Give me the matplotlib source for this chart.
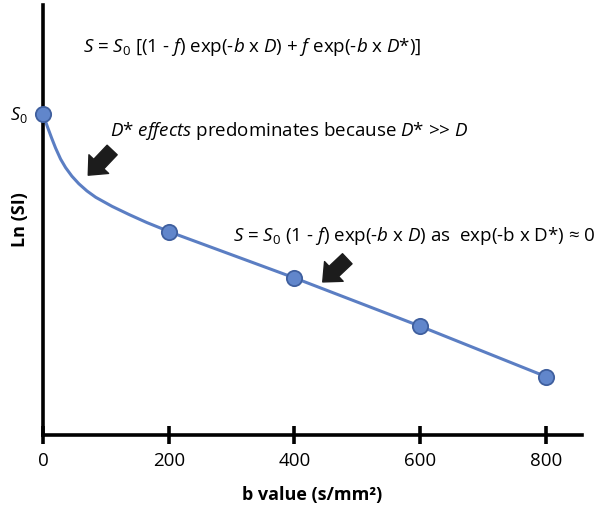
import matplotlib
matplotlib.use("Agg")
import matplotlib.pyplot as plt

plt.rcParams['font.family'] = ['Open Sans', 'DejaVu Sans']
plt.rcParams['mathtext.fontset'] = 'custom'
plt.rcParams['mathtext.rm'] = 'Open Sans'
plt.rcParams['mathtext.it'] = 'Open Sans:italic'
plt.rcParams['mathtext.bf'] = 'Open Sans:bold'

# measured b values (s/mm2) and Ln(SI) in arbitrary units
b_points = [0, 200, 400, 600, 800]
ln_points = [3.19, 2.02, 1.56, 1.08, 0.58]

# fitted curve
b_curve = [0, 4, 8, 14, 20, 28, 36, 46, 57, 70, 84, 110, 137, 165, 190, 200,
           400, 600, 800]
ln_curve = [3.19, 3.115, 3.045, 2.945, 2.85, 2.74, 2.655, 2.57, 2.495, 2.423,
            2.36, 2.27, 2.189, 2.11, 2.047, 2.02, 1.56, 1.08, 0.58]

x_ticks = [0, 200, 400, 600, 800]

line_col = '#5b7ec3'
face_col = '#6186cb'
edge_col = '#3f5f9e'
arrow_col = '#1c1c1c'

fig = plt.figure(figsize=(6.02, 5.14), dpi=100)
ax = fig.add_axes([0.0714, 0.1537, 0.895, 0.8366])

ax.plot(b_curve, ln_curve, color=line_col, lw=2.2, zorder=2)
ax.plot(b_points, ln_points, 'o', ms=11, mfc=face_col, mec=edge_col, mew=1.3,
        zorder=3, clip_on=False)

ax.set_xlim(0, 857)
ax.set_ylim(0, 4.27)

for s in ['top', 'right']:
    ax.spines[s].set_visible(False)
for s in ['left', 'bottom']:
    ax.spines[s].set_linewidth(2.6)
    ax.spines[s].set_color('black')

ax.set_xticks(x_ticks)
ax.set_xticklabels([str(t) for t in x_ticks])
ax.tick_params(axis='x', direction='inout', length=13, width=2.6, labelsize=13.5,
               pad=6)
ax.set_yticks([])

ax.set_xlabel('b value (s/mm²)', fontsize=13, fontweight='bold', labelpad=11)
ax.set_ylabel('Ln (SI)', fontsize=13, fontweight='bold', labelpad=10)

# S0 label on the y axis
ax.text(-24, 3.18, r'$S_\mathit{0}$', fontsize=13, ha='right', va='center',
        clip_on=False)

# equations and notes
ax.text(332, 3.85,
        r'$S$ = $S_\mathit{0}$ [(1 - $f$) exp(-$b$ x $D$) + $f$ exp(-$b$ x $D$*)]',
        fontsize=13.5, ha='center', va='center')
ax.text(106, 3.02,
        r'$D$* $\mathit{effects}$ predominates because $D$* >> $D$',
        fontsize=13.5, ha='left', va='center')
ax.text(302, 1.98,
        r'$S$ = $S_\mathit{0}$ (1 - $f$) exp(-$b$ x $D$) as  exp(-b x D*) ≈ 0',
        fontsize=13.5, ha='left', va='center')

arrow_style = 'simple,head_length=1.1,head_width=1.95,tail_width=1.0'
ax.annotate('', xy=(72, 2.58), xytext=(110, 2.83),
            arrowprops=dict(arrowstyle=arrow_style, mutation_scale=10,
                            color=arrow_col, shrinkA=0, shrinkB=0))
ax.annotate('', xy=(445, 1.52), xytext=(484, 1.75),
            arrowprops=dict(arrowstyle=arrow_style, mutation_scale=10,
                            color=arrow_col, shrinkA=0, shrinkB=0))

fig.savefig('out.png', dpi=100)
